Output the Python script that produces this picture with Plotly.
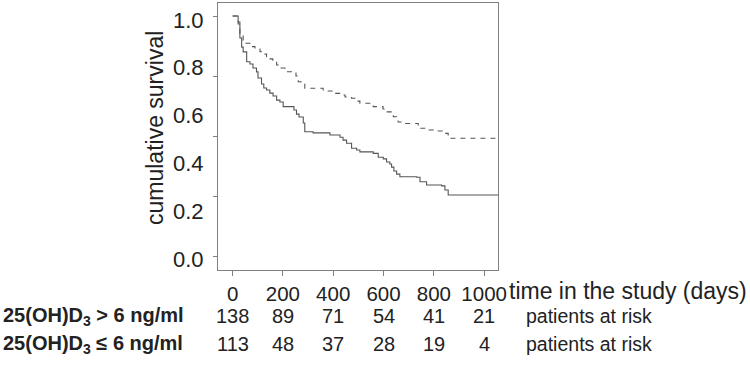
import plotly.graph_objects as go

# ---- data ----
high_days = [0, 22, 29, 42, 49, 69, 89, 109, 120, 135, 148, 160, 175, 188, 208, 241, 252, 261, 272, 287,
             360, 400, 433, 447, 473, 490, 506, 559, 598, 612, 639, 652, 658, 677, 738, 745, 771, 798, 837, 857, 1055]
high_surv = [1.0, 0.975, 0.928, 0.900, 0.887, 0.873, 0.863, 0.852, 0.842, 0.831, 0.822, 0.809, 0.797, 0.784, 0.769,
             0.763, 0.751, 0.727, 0.718, 0.700, 0.689, 0.679, 0.672, 0.664, 0.659, 0.647, 0.638, 0.624, 0.614, 0.602,
             0.582, 0.573, 0.560, 0.554, 0.548, 0.534, 0.527, 0.523, 0.513, 0.493, 0.493]

low_days = [0, 22, 29, 36, 42, 56, 69, 81, 95, 101, 115, 124, 135, 148, 161, 175, 188, 201, 235, 244, 254, 264,
            281, 287, 320, 387, 427, 439, 453, 473, 493, 506, 559, 579, 599, 612, 625, 632, 641, 652, 665, 732,
            745, 771, 831, 844, 857, 1055]
low_surv = [1.0, 0.967, 0.909, 0.871, 0.851, 0.810, 0.801, 0.784, 0.768, 0.743, 0.718, 0.701, 0.693, 0.680, 0.668,
            0.651, 0.643, 0.624, 0.624, 0.610, 0.593, 0.581, 0.556, 0.520, 0.515, 0.506, 0.497, 0.485, 0.472, 0.451,
            0.444, 0.436, 0.430, 0.414, 0.407, 0.394, 0.386, 0.373, 0.357, 0.344, 0.333, 0.331, 0.312, 0.299, 0.295,
            0.278, 0.257, 0.257]

x_ticks = [0, 200, 400, 600, 800, 1000]
y_marks = [0, 0.25, 0.5, 0.75, 1.0]
y_labels_vals = [0.0, 0.2, 0.4, 0.6, 0.8, 1.0]
y_labels_text = ["0.0", "0.2", "0.4", "0.6", "0.8", "1.0"]

risk_high = [138, 89, 71, 54, 41, 21]
risk_low = [113, 48, 37, 28, 19, 4]
group_high = "<b>25(OH)D<sub>3</sub> &gt; 6 ng/ml</b>"
group_low = "<b>25(OH)D<sub>3</sub> ≤ 6 ng/ml</b>"
risk_label = "patients at risk"
x_title = "time in the study (days)"
y_title = "cumulative survival"

# ---- layout geometry ----
W, H = 750, 366
L, R, T, B = 218, 498, 3, 270
pw, ph = R - L, B - T

def px_x(p):
    return (p - L) / pw

def px_y(p):
    return (B - p) / ph

FONT = "Liberation Sans, Arial, Helvetica, sans-serif"
TXT = "#222222"
LINE = "#555555"
AX = "#808080"

fig = go.Figure()
fig.add_trace(go.Scatter(x=high_days, y=high_surv, mode="lines", line_shape="hv",
                         line=dict(color=LINE, width=1.1, dash="5px,5px"), showlegend=False))
fig.add_trace(go.Scatter(x=low_days, y=low_surv, mode="lines", line_shape="hv",
                         line=dict(color=LINE, width=1.1), showlegend=False))
# invisible trace to activate label axis
fig.add_trace(go.Scatter(x=[0], y=[0], yaxis="y2", mode="markers", marker=dict(opacity=0),
                         showlegend=False, hoverinfo="skip"))

fig.update_layout(
    width=W, height=H,
    margin=dict(l=L, r=W - R, t=T, b=H - B, pad=0, autoexpand=False),
    plot_bgcolor="white", paper_bgcolor="white",
    font=dict(family=FONT, color=TXT),
    xaxis=dict(range=[-58, 1055], tickvals=x_ticks, ticktext=[str(v) for v in x_ticks],
               ticks="outside", ticklen=5, tickcolor=AX, showline=True, linecolor=AX, linewidth=1,
               mirror=True, showgrid=False, zeroline=False, tickfont=dict(size=20.5, color=TXT)),
    yaxis=dict(range=[-0.054, 1.054], tickvals=y_marks, showticklabels=False,
               ticks="outside", ticklen=4, tickcolor=AX, showline=True, linecolor=AX, linewidth=1,
               mirror=True, showgrid=False, zeroline=False),
    yaxis2=dict(range=[-0.046, 1.071], overlaying="y", side="left", tickvals=y_labels_vals,
                ticktext=y_labels_text, ticks="outside", ticklen=9, tickcolor="rgba(0,0,0,0)",
                showline=False, showgrid=False, zeroline=False, tickfont=dict(size=22, color=TXT)),
)

ann = []
ann.append(dict(x=px_x(155), y=px_y(128), xref="paper", yref="paper", text=y_title, textangle=-90,
                showarrow=False, xanchor="center", yanchor="middle", font=dict(size=23, color=TXT)))
ann.append(dict(x=px_x(507), y=px_y(291), xref="paper", yref="paper", text=x_title,
                showarrow=False, xanchor="left", yanchor="middle", font=dict(size=23, color=TXT)))

rows = [(group_high, risk_high, 316), (group_low, risk_low, 344)]
for label, counts, yc in rows:
    ann.append(dict(x=px_x(1), y=px_y(yc), xref="paper", yref="paper", text=label,
                    showarrow=False, xanchor="left", yanchor="middle", font=dict(size=20, color=TXT)))
    for xv, c in zip(x_ticks, counts):
        ann.append(dict(x=xv, y=px_y(yc), xref="x", yref="paper", text=str(c),
                        showarrow=False, xanchor="center", yanchor="middle", font=dict(size=20, color=TXT)))
    ann.append(dict(x=px_x(524), y=px_y(yc), xref="paper", yref="paper", text=risk_label,
                    showarrow=False, xanchor="left", yanchor="middle", font=dict(size=19.5, color=TXT)))

fig.update_layout(annotations=ann)
fig.write_html("out.html", config={"displayModeBar": False},
               post_script="document.body.style.margin='0';document.body.style.padding='0';")
